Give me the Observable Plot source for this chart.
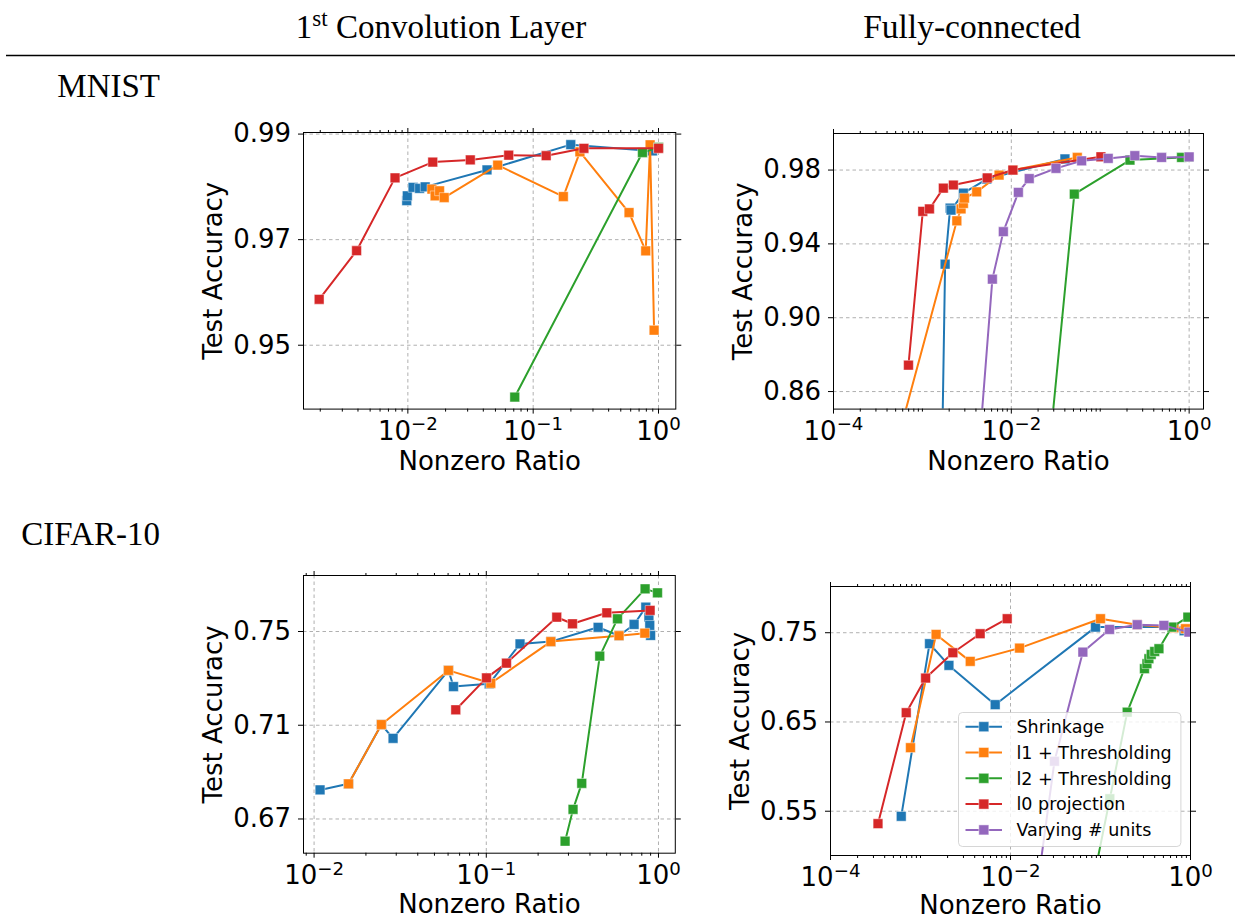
<!DOCTYPE html>
<html>
<head>
<meta charset="utf-8">
<script src="https://cdn.jsdelivr.net/npm/d3@7"></script>
<script src="https://cdn.jsdelivr.net/npm/@observablehq/plot@0.6"></script>
<style>
  body { margin: 0; background: #fff; }
  #fig { position: relative; width: 1235px; height: 920px; overflow: hidden; background: #fff; }
  #fig svg { position: absolute; }
</style>
</head>
<body>
<div id="fig"></div>
<script>
// ---- series metadata ----
const methods = ["Shrinkage", "l1 + Thresholding", "l2 + Thresholding", "l0 projection", "Varying # units"];
const palette = ["#1f77b4", "#ff7f0e", "#2ca02c", "#d62728", "#9467bd"];

// ---- MNIST, 1st convolution layer: [nonzero ratio, test accuracy] ----
const mnistConvShrinkage = [[0.0098, 0.9774], [0.0099, 0.9783], [0.011, 0.9799], [0.0124, 0.9797], [0.01375, 0.98], [0.0428, 0.9832], [0.1995, 0.988], [0.895, 0.9868]];
const mnistConvL1 = [[0.01556, 0.97957], [0.0165, 0.9783], [0.0179, 0.97925], [0.0195, 0.97798], [0.0521, 0.98412], [0.174, 0.97817], [0.236, 0.98664], [0.582, 0.97514], [0.791, 0.96787], [0.857, 0.98797], [0.922, 0.95284]];
const mnistConvL2 = [[0.0713, 0.94019], [0.745, 0.98651], [1.0, 0.98746]];
const mnistConvL0 = [[0.00196, 0.9587], [0.0039, 0.9679], [0.0079, 0.9817], [0.0158, 0.9847], [0.0315, 0.9851], [0.0638, 0.986], [0.127, 0.9859], [0.254, 0.9873], [1.0, 0.9873]];

// ---- MNIST, fully-connected ----
const mnistFcShrinkage = [[0.00163, 0.80], [0.0018, 0.929], [0.00205, 0.9594], [0.0021, 0.9583], [0.00289, 0.9675], [0.0053, 0.9751], [0.0401, 0.986]];
const mnistFcL1 = [[0.00034, 0.80], [0.00244, 0.9525], [0.00272, 0.9589], [0.00289, 0.9619], [0.00297, 0.9648], [0.00408, 0.9682], [0.00728, 0.9773], [0.0105, 0.98], [0.0552, 0.9868]];
const mnistFcL2 = [[0.0234, 0.80], [0.0511, 0.967], [0.216, 0.9854], [0.822, 0.9868], [1.0, 0.9871]];
const mnistFcL0 = [[0.000697, 0.8743], [0.00101, 0.9576], [0.0012, 0.9589], [0.00172, 0.9702], [0.00223, 0.9719], [0.00537, 0.9757], [0.0104, 0.98], [0.1018, 0.9872]];
const mnistFcUnits = [[0.0039, 0.80], [0.00612, 0.9209], [0.00813, 0.9466], [0.012, 0.9679], [0.0159, 0.9754], [0.0318, 0.9809], [0.0618, 0.985], [0.123, 0.9863], [0.245, 0.9878], [0.49, 0.9868], [1.0, 0.9871]];

// ---- CIFAR-10, 1st convolution layer ----
const cifarConvShrinkage = [[0.01083, 0.6824], [0.01585, 0.685], [0.0246, 0.7103], [0.02875, 0.7044], [0.0603, 0.7334], [0.0645, 0.7265], [0.104, 0.7277], [0.157, 0.7447], [0.237, 0.7457], [0.446, 0.7518], [0.59, 0.7482], [0.7216, 0.753], [0.844, 0.7604], [0.88, 0.7561], [0.89, 0.7526], [0.9, 0.7483]];
const cifarConvL1 = [[0.01585, 0.685], [0.0246, 0.7103], [0.0603, 0.7334], [0.1062, 0.7279], [0.237, 0.7457], [0.59, 0.7482], [0.8327, 0.7493]];
const cifarConvL2 = [[0.2868, 0.6605], [0.319, 0.6741], [0.3585, 0.6852], [0.456, 0.7395], [0.578, 0.7554], [0.836, 0.7682], [0.987, 0.7665]];
const cifarConvL0 = [[0.0665, 0.7166], [0.1003, 0.7302], [0.131, 0.7365], [0.2566, 0.7561], [0.3167, 0.7533], [0.501, 0.758], [0.894, 0.759]];

// ---- CIFAR-10, fully-connected ----
const cifarFcShrinkage = [[0.000611, 0.5443], [0.00126, 0.7377], [0.00207, 0.7134], [0.00676, 0.6694], [0.088, 0.7563], [0.654, 0.7563], [0.85, 0.7522]];
const cifarFcL1 = [[0.000774, 0.6212], [0.00149, 0.7481], [0.00357, 0.7179], [0.0126, 0.7328], [0.1, 0.7657], [0.256, 0.759], [0.654, 0.7556], [0.88, 0.7545]];
const cifarFcL2 = [[0.075, 0.45], [0.127, 0.564], [0.198, 0.661], [0.308, 0.7097], [0.328, 0.7153], [0.345, 0.7209], [0.366, 0.7257], [0.40, 0.729], [0.446, 0.7321], [0.621, 0.7563], [0.935, 0.7675]];
const cifarFcL0 = [[0.000337, 0.5361], [0.000694, 0.6604], [0.00114, 0.6992], [0.00229, 0.7276], [0.0046, 0.7489], [0.00919, 0.7657]];
const cifarFcUnits = [[0.019, 0.45], [0.0308, 0.606], [0.0637, 0.7283], [0.126, 0.7537], [0.256, 0.759], [0.506, 0.7582], [0.96, 0.7507]];

// ---- axis ticks ----
const convXTicks = [0.01, 0.1, 1];
const fcXTicks = [1e-4, 1e-2, 1];
const mnistConvYTicks = [0.95, 0.97, 0.99];
const mnistFcYTicks = [0.86, 0.90, 0.94, 0.98];
const cifarConvYTicks = [0.67, 0.71, 0.75];
const cifarFcYTicks = [0.55, 0.65, 0.75];

const colTitles = ["Convolution Layer", "Fully-connected"];
const rowTitles = ["MNIST", "CIFAR-10"];

const fig = d3.select("#fig");
const FONT = "'DejaVu Sans', sans-serif";
const SERIF = "'Liberation Serif', 'DejaVu Serif', serif";

// Log-axis minor ticks (k * 10^e) inside the domain
function minorTicks([lo, hi], major) {
  const out = [];
  for (let e = Math.floor(Math.log10(lo)); e <= Math.ceil(Math.log10(hi)); e++) {
    for (let k = 1; k <= 9; k++) {
      const v = k * Math.pow(10, e);
      if (v >= lo * 0.9999 && v <= hi * 1.0001 && !major.some(m => Math.abs(m - v) / v < 1e-6)) out.push(v);
    }
  }
  return out;
}

function drawPanel({frame: [l, t, r, b], xDomain, yDomain, xTicks, yTicks, series, xLabelOffset = 61}) {
  const mL = 130, mR = 24, mT = 14, mB = 84;
  const minor = minorTicks(xDomain, xTicks);
  const gridStyle = {stroke: "#b0b0b0", strokeOpacity: 1, strokeWidth: 1, strokeDasharray: "3.5,3"};
  const marks = [
    Plot.gridX(xTicks, gridStyle),
    Plot.gridY(yTicks, gridStyle)
  ];
  series.forEach((data, i) => {
    if (!data) return;
    marks.push(
      Plot.line(data, {x: d => d[0], y: d => d[1], stroke: palette[i], strokeWidth: 2, clip: true}),
      Plot.dot(data, {x: d => d[0], y: d => d[1], symbol: "square", r: 5.5, fill: palette[i],
                      stroke: "white", strokeOpacity: 0.45, strokeWidth: 1, clip: true})
    );
  });
  const blank = () => "";
  marks.push(
    Plot.axisY(yTicks, {anchor: "left", tickSize: 5, tickPadding: 7.5, tickFormat: d3.format(".2f"),
                        label: "Test Accuracy", labelAnchor: "center", labelArrow: "none", labelOffset: 100}),
    Plot.axisY(yTicks, {anchor: "right", tickSize: 5, tickFormat: blank, label: null}),
    Plot.axisX(xTicks, {anchor: "bottom", tickSize: 5, tickPadding: 7, tickFormat: d => "10^" + Math.round(Math.log10(d)),
                        label: "Nonzero Ratio", labelAnchor: "center", labelArrow: "none", labelOffset: xLabelOffset}),
    Plot.axisX(minor, {anchor: "bottom", tickSize: 3, tickFormat: blank, label: null}),
    Plot.axisX(xTicks, {anchor: "top", tickSize: 5, tickFormat: blank, label: null}),
    Plot.axisX(minor, {anchor: "top", tickSize: 3, tickFormat: blank, label: null}),
    Plot.frame({stroke: "black", strokeWidth: 1})
  );
  const svg = Plot.plot({
    width: (r - l) + mL + mR,
    height: (b - t) + mT + mB,
    marginLeft: mL, marginRight: mR, marginTop: mT, marginBottom: mB,
    x: {type: "log", domain: xDomain},
    y: {domain: yDomain},
    style: {fontFamily: FONT, fontSize: "26px", color: "black", background: "transparent", overflow: "visible"},
    marks
  });
  // power-of-ten labels with a raised exponent
  d3.select(svg).selectAll("text").each(function() {
    const s = this.textContent;
    if (!/^10\^/.test(s) || this.children.length) return;
    const e = s.slice(3).replace("-", "\u2212");
    this.textContent = "";
    const t = d3.select(this);
    t.append("tspan").text("10");
    t.append("tspan").attr("font-size", "0.7em").attr("dy", "-0.5em").text(e);
  });
  svg.style.position = "absolute";
  svg.style.left = (l - mL) + "px";
  svg.style.top = (t - mT) + "px";
  fig.node().appendChild(svg);
}

// ---- header: column titles, rule and row titles ----
const hdr = fig.append("svg").attr("width", 1235).attr("height", 920)
  .style("left", "0px").style("top", "0px")
  .attr("font-family", SERIF).attr("fill", "black");
const t1 = hdr.append("text").attr("x", 441).attr("y", 37.5).attr("text-anchor", "middle").attr("font-size", 33);
t1.append("tspan").text("1");
t1.append("tspan").attr("font-size", "23px").attr("dy", "-11.5").text("st");
t1.append("tspan").attr("dy", "11.5").text(" " + colTitles[0]);
hdr.append("text").attr("x", 972).attr("y", 37.5).attr("text-anchor", "middle").attr("font-size", 33.5).text(colTitles[1]);
hdr.append("line").attr("x1", 6).attr("x2", 1235).attr("y1", 55.5).attr("y2", 55.5).attr("stroke", "black").attr("stroke-width", 1.5);
hdr.append("text").attr("x", 160).attr("y", 97).attr("text-anchor", "end").attr("font-size", 33).text(rowTitles[0]);
hdr.append("text").attr("x", 160).attr("y", 545).attr("text-anchor", "end").attr("font-size", 33).text(rowTitles[1]);

// ---- the four panels ----
drawPanel({frame: [302.7, 131.7, 675, 408.3], xDomain: [0.00147, 1.374], yDomain: [0.9379, 0.9903],
           xTicks: convXTicks, yTicks: mnistConvYTicks,
           series: [mnistConvShrinkage, mnistConvL1, mnistConvL2, mnistConvL0, null]});
drawPanel({frame: [833.3, 132.7, 1203.3, 408.3], xDomain: [1e-4, 1.45], yDomain: [0.8505, 0.9998],
           xTicks: fcXTicks, yTicks: mnistFcYTicks,
           series: [mnistFcShrinkage, mnistFcL1, mnistFcL2, mnistFcL0, mnistFcUnits]});
drawPanel({frame: [302.7, 575, 674.5, 852.7], xDomain: [0.00868, 1.252], yDomain: [0.6554, 0.7739],
           xTicks: convXTicks, yTicks: cifarConvYTicks, xLabelOffset: 60,
           series: [cifarConvShrinkage, cifarConvL1, cifarConvL2, cifarConvL0, null]});
drawPanel({frame: [830, 586, 1190, 855], xDomain: [1e-4, 1.0], yDomain: [0.5004, 0.8018],
           xTicks: fcXTicks, yTicks: cifarFcYTicks, xLabelOffset: 58,
           series: [cifarFcShrinkage, cifarFcL1, cifarFcL2, cifarFcL0, cifarFcUnits]});

// ---- legend (inside the CIFAR-10 fully-connected panel) ----
const leg = fig.append("svg").attr("width", 226).attr("height", 138)
  .style("left", "956.5px").style("top", "711px");
leg.append("rect").attr("x", 1.5).attr("y", 1.5).attr("width", 222.4).attr("height", 134).attr("rx", 4)
  .attr("fill", "white").attr("fill-opacity", 0.8).attr("stroke", "#cccccc").attr("stroke-opacity", 0.8);
methods.forEach((m, i) => {
  const cy = 15.7 + 25.8 * i;
  const g = leg.append("g");
  g.append("line").attr("x1", 8.5).attr("x2", 45).attr("y1", cy).attr("y2", cy)
    .attr("stroke", palette[i]).attr("stroke-width", 2);
  g.append("rect").attr("x", 26.8 - 5).attr("y", cy - 5).attr("width", 10).attr("height", 10)
    .attr("fill", palette[i]).attr("stroke", "white").attr("stroke-opacity", 0.45);
  g.append("text").attr("x", 59.5).attr("y", cy).attr("dy", "0.36em")
    .attr("font-family", FONT).attr("font-size", 17.5).attr("fill", "black").text(m);
});
</script>
</body>
</html>
